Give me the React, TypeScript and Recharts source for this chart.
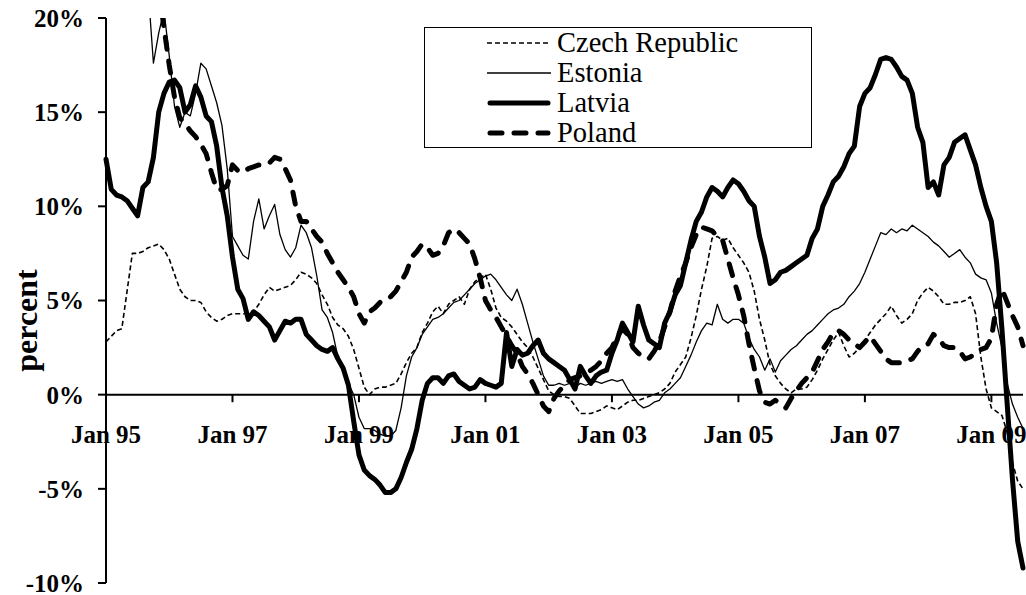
import React from 'react';
import { LineChart, Line, XAxis, YAxis, ReferenceLine, ReferenceDot, Legend } from 'recharts';

// month index 0 = Jan 95 ... 174 = Jul 09
const months = Array.from({ length: 175 }, (_, i) => i);

const xTickMonths = [0, 24, 48, 72, 96, 120, 144, 168];
const xTickLabels = ['Jan 95', 'Jan 97', 'Jan 99', 'Jan 01', 'Jan 03', 'Jan 05', 'Jan 07', 'Jan 09'];
const yTicks = [-10, -5, 0, 5, 10, 15, 20];

const czech = [
  2.8, 3.1, 3.4, 3.5, 5.5, 7.5, 7.5, 7.6, 7.8, 7.9, 8.0, 7.7,
  7.2, 6.4, 5.6, 5.2, 5.0, 5.0, 4.9, 4.4, 4.1, 3.9, 4.0, 4.2,
  4.3, 4.3, 4.3, 4.3, 4.4, 4.8, 5.3, 5.7, 5.5, 5.6, 5.7, 5.8,
  6.1, 6.5, 6.4, 6.2, 5.9, 5.3, 4.8, 4.1, 3.7, 3.5, 3.1, 2.4,
  1.4, 0.4, 0.0, 0.3, 0.4, 0.4, 0.5, 0.6, 1.1, 1.7, 2.2, 2.5,
  3.3, 3.8, 4.4, 4.7, 4.3, 4.8, 5.0, 5.2, 4.8, 5.6, 6.0, 6.2,
  6.4, 5.6, 4.6, 4.1, 3.9, 3.6, 3.2, 2.8, 2.5, 2.0, 1.4, 0.8,
  0.2, 0.0, -0.1, -0.1, -0.2, -0.6, -1.0, -1.0, -1.0, -0.9, -0.8, -0.6,
  -0.7, -0.8, -0.6, -0.4, -0.3, -0.3, -0.2, -0.1, 0.0, 0.1, 0.3, 0.6,
  1.2, 1.6, 2.0, 3.0, 4.2, 5.6, 6.8, 8.3, 8.4, 8.2, 8.3, 7.8,
  7.4, 7.0, 6.5, 5.5, 4.0, 2.9, 1.6, 1.0, 0.6, 0.3, 0.1, 0.3,
  0.3, 0.4, 0.8, 1.3, 1.9, 2.4, 2.9, 3.3, 2.6, 2.0, 2.2, 2.5,
  2.9, 3.3, 3.7, 4.0, 4.3, 4.7, 4.2, 3.8, 4.0, 4.3, 5.0, 5.4,
  5.7, 5.5, 5.2, 4.8, 4.8, 4.9, 4.9, 5.0, 5.2, 4.3, 2.0, 0.3,
  -0.7, -0.9, -1.1, -2.0, -3.6, -4.6, -5.0,
];

const estonia = [
  null, null, null, null, null, null, null, null, 21.5, 17.6, 19.2, 20.4,
  18.0, 15.3, 14.2, 15.0, 14.8, 16.0, 17.6, 17.3, 16.4, 15.5, 14.3, 12.0,
  8.4, 7.9, 7.4, 7.2, 9.2, 10.4, 8.8, 9.5, 10.1, 8.5, 7.7, 7.3,
  7.8, 9.0, 8.6, 7.8, 6.3, 4.5, 4.1, 3.3, 2.0, 1.3, 0.6, 0.0,
  -1.2, -1.8, -1.8, -1.9, -2.1, -2.2, -2.2, -1.9, -0.7, 1.0, 2.0, 2.5,
  3.2, 3.6, 4.0, 4.1, 4.3, 4.6, 4.9, 5.0, 5.3, 5.6, 5.9, 6.1,
  6.3, 6.4, 6.1, 5.7, 5.3, 5.0, 5.6, 4.8, 3.8, 2.8, 1.9, 1.0,
  0.5, 0.5, 0.6, 0.5, 0.6, 0.4, 0.6, 0.5, 0.6, 0.7, 0.6, 0.7,
  0.8, 0.7, 0.8, 0.3, -0.1, -0.5, -0.7, -0.6, -0.4, -0.3, 0.1, 0.3,
  0.6, 0.9, 1.5, 2.1, 2.8, 3.4, 3.8, 3.7, 4.8, 4.0, 3.8, 4.0,
  4.0, 3.8, 3.0, 2.4, 2.0, 1.3, 1.9, 1.2, 1.8, 2.1, 2.4, 2.6,
  2.9, 3.2, 3.4, 3.7, 4.0, 4.3, 4.5, 4.6, 4.8, 5.2, 5.5, 5.9,
  6.5, 7.2, 7.9, 8.6, 8.5, 8.8, 8.6, 8.8, 8.7, 9.0, 8.8, 8.6,
  8.4, 8.1, 7.9, 7.6, 7.3, 7.5, 7.7, 7.3, 7.0, 6.4, 6.2, 6.1,
  5.4, 3.8, 2.5, 0.6, -0.5, -1.2, -1.8,
];

const latvia = [
  12.5, 10.9, 10.6, 10.5, 10.3, 9.9, 9.5, 11.0, 11.3, 12.6, 15.0, 16.0,
  16.6, 16.7, 16.3, 15.0, 15.4, 16.4, 15.8, 14.8, 14.5, 13.2, 11.0, 9.5,
  7.3, 5.6, 5.1, 4.0, 4.4, 4.2, 3.9, 3.6, 2.9, 3.4, 3.9, 3.8,
  4.0, 4.0, 3.2, 2.9, 2.6, 2.4, 2.3, 2.5, 1.9, 1.4, 0.5, -1.4,
  -3.2, -4.0, -4.3, -4.5, -4.8, -5.2, -5.2, -5.0, -4.4, -3.6, -2.9, -1.8,
  -0.3, 0.6, 0.9, 0.9, 0.6, 1.0, 1.1, 0.7, 0.5, 0.3, 0.4, 0.8,
  0.6, 0.5, 0.4, 0.6, 3.3, 1.5, 2.4, 2.1, 2.2, 2.6, 2.9, 2.2,
  1.9, 1.7, 1.5, 1.3, 0.8, 0.3, 1.5, 1.0, 0.6, 1.0, 1.2, 1.3,
  2.2, 2.9, 3.8, 3.3, 2.8, 4.7, 3.7, 2.9, 2.7, 2.5, 3.8, 4.4,
  5.3, 5.8, 7.0, 8.2, 9.2, 9.7, 10.5, 11.0, 10.8, 10.5, 11.0, 11.4,
  11.2, 10.8, 10.3, 10.0, 8.4, 7.3, 5.9, 6.1, 6.5, 6.6, 6.8, 7.0,
  7.2, 7.4, 8.3, 8.8, 10.0, 10.6, 11.3, 11.6, 12.1, 12.8, 13.2, 15.3,
  16.0, 16.3, 17.0, 17.8, 17.9, 17.8, 17.4, 16.9, 16.7, 16.0, 14.2, 13.4,
  11.0, 11.3, 10.6, 12.2, 12.6, 13.4, 13.6, 13.8, 13.0, 12.2, 11.0, 10.0,
  9.2, 7.0, 3.5, -0.5, -4.5, -7.8, -9.2,
];

const poland = [
  null, null, null, null, null, null, null, null, null, null, 21.5, 19.5,
  17.5, 15.8, 14.7, 14.4, 14.0, 13.7, 13.3, 12.8, 11.8, 10.9, 10.9, 11.1,
  12.2, 11.9, 11.8, 12.0, 12.1, 12.2, 12.2, 12.3, 12.6, 12.5, 12.0, 11.4,
  10.0, 9.2, 9.2, 8.8, 8.4, 8.1, 7.5, 7.0, 6.5, 6.1, 5.7, 5.2,
  4.3, 3.8, 4.4, 4.6, 4.9, 5.0, 5.2, 5.5, 6.0, 6.5, 7.3, 7.6,
  8.0, 7.8, 7.4, 7.5, 7.9, 8.6, 8.8, 8.6, 8.3, 8.0, 7.2, 6.2,
  5.0, 4.5, 4.1, 3.6, 3.1, 2.6, 2.2, 1.5, 1.1, 0.6, 0.0, -0.6,
  -0.9, -0.2, 0.2, 0.5, 0.8, 0.9, 1.0, 1.1, 1.3, 1.5, 1.8, 2.2,
  2.5, 3.1, 3.5, 3.2, 2.5, 2.2, 2.0, 1.9, 2.3, 2.8, 3.6, 4.4,
  5.5, 6.3, 7.0, 7.8, 8.5, 8.9, 8.8, 8.7, 8.4, 8.2, 7.2, 6.2,
  5.3, 4.2, 2.7, 1.4, 0.2, -0.4, -0.5, -0.3, -0.5, -0.7, -0.2, 0.2,
  0.6, 0.9, 1.2, 1.8, 2.4, 2.8, 3.3, 3.4, 3.2, 2.9, 2.7, 2.5,
  2.8, 3.1, 2.7, 2.3, 1.9, 1.7, 1.7, 1.7, 1.8, 1.9, 2.3, 2.6,
  2.7, 3.2, 3.0, 2.6, 2.5, 2.5, 2.3, 1.9, 2.0, 2.2, 2.4, 2.5,
  3.0, 4.8, 5.6, 4.9, 4.2, 3.6, 2.6,
];

const data = months.map((m, i) => ({
  m,
  cz: czech[i],
  ee: estonia[i],
  lv: latvia[i],
  pl: poland[i],
}));

const FONT = '"Liberation Serif", "Times New Roman", serif';

const series = [
  { key: 'cz', name: 'Czech Republic', width: 1.6, dash: '5 3', cap: 'butt' },
  { key: 'ee', name: 'Estonia', width: 1.3, dash: undefined, cap: 'butt' },
  { key: 'lv', name: 'Latvia', width: 5, dash: undefined, cap: 'round' },
  { key: 'pl', name: 'Poland', width: 5, dash: '12 12', cap: 'round' },
];

const LegendBox = () => (
  <div
    style={{
      width: 388,
      height: 121,
      border: '1.5px solid #000',
      boxSizing: 'border-box',
      background: '#fff',
      fontFamily: FONT,
    }}
  >
    {series.map((s) => (
      <div key={s.key} style={{ display: 'flex', alignItems: 'center', height: 30 }}>
        <svg width={70} height={30} style={{ marginLeft: 62, flex: 'none' }}>
          <line
            x1={s.cap === 'round' ? 3 : 0}
            x2={s.cap === 'round' ? 61 : 64}
            y1={15}
            y2={15}
            stroke="#000"
            strokeWidth={s.width}
            strokeDasharray={s.dash}
            strokeLinecap={s.cap as any}
          />
        </svg>
        <span style={{ fontSize: 28.5, lineHeight: '30px', color: '#000' }}>{s.name}</span>
      </div>
    ))}
  </div>
);

export default function App() {
  return (
    <div style={{ position: 'absolute', left: 0, top: 0, width: 1026, height: 595, background: '#fff' }}>
      <LineChart
        width={1026}
        height={595}
        data={data}
        margin={{ top: 18, right: 3, bottom: 12, left: 0 }}
      >
        <XAxis type="number" dataKey="m" domain={[0, 174]} hide />
        <YAxis
          domain={[-10, 20]}
          ticks={yTicks}
          allowDataOverflow
          interval={0}
          width={106}
          tickFormatter={(v: number) => `${v}%`}
          axisLine={{ stroke: '#000', strokeWidth: 2 }}
          tickLine={{ stroke: '#000', strokeWidth: 2 }}
          tickSize={8}
          tickMargin={14}
          tick={{ fill: '#000', fontSize: 25, fontWeight: 'bold', fontFamily: FONT }}
          label={{
            value: 'percent',
            angle: -90,
            position: 'center',
            dx: -27,
            dy: 20,
            fill: '#000',
            fontSize: 32,
            fontWeight: 'bold',
            fontFamily: FONT,
          }}
        />
        <ReferenceLine y={0} stroke="#000" strokeWidth={2} />
        {xTickMonths.map((m) => (
          <ReferenceLine
            key={`t${m}`}
            segment={[{ x: m, y: 0 }, { x: m, y: -0.4 }]}
            stroke="#000"
            strokeWidth={2}
          />
        ))}
        {xTickMonths.map((m, i) => (
          <ReferenceDot
            key={`l${m}`}
            x={m}
            y={0}
            r={0}
            fill="none"
            stroke="none"
            label={{
              value: xTickLabels[i],
              position: 'bottom',
              offset: 31,
              fill: '#000',
              fontSize: 25,
              fontWeight: 'bold',
              fontFamily: FONT,
            }}
          />
        ))}
        <Legend
          layout="vertical"
          align="center"
          verticalAlign="middle"
          content={() => <LegendBox />}
          wrapperStyle={{ left: 424, top: 27, width: 388 }}
        />
        {series.map((s) => (
          <Line
            key={s.key}
            type="linear"
            dataKey={s.key}
            name={s.name}
            stroke="#000"
            strokeWidth={s.width}
            strokeDasharray={s.dash}
            strokeLinecap={s.cap as any}
            strokeLinejoin="round"
            dot={false}
            activeDot={false}
            isAnimationActive={false}
          />
        ))}
      </LineChart>
    </div>
  );
}
